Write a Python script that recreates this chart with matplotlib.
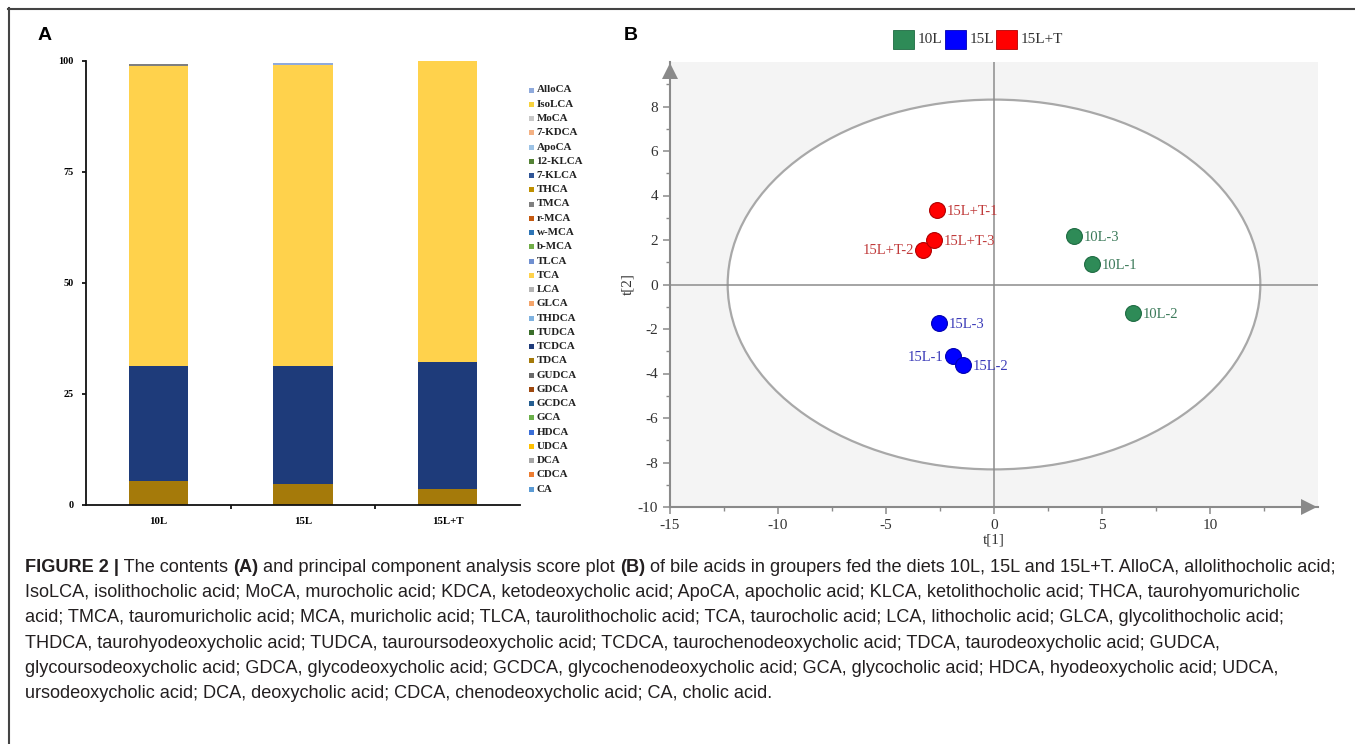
import matplotlib
matplotlib.use("Agg")
import matplotlib.pyplot as plt
from matplotlib.patches import Ellipse, Rectangle
from matplotlib.lines import Line2D

plt.rcParams["axes.unicode_minus"] = False

# ---------------- data ----------------
groups = ["10L", "15L", "15L+T"]
acid_names = ["AlloCA", "IsoLCA", "MoCA", "7-KDCA", "ApoCA", "12-KLCA", "7-KLCA", "THCA",
              "TMCA", "r-MCA", "w-MCA", "b-MCA", "TLCA", "TCA", "LCA", "GLCA", "THDCA",
              "TUDCA", "TCDCA", "TDCA", "GUDCA", "GDCA", "GCDCA", "GCA", "HDCA", "UDCA",
              "DCA", "CDCA", "CA"]
acid_colors = ["#8FAADC", "#F7D23E", "#C8C8C8", "#F4B183", "#9DC3E6", "#548235", "#2F5597",
               "#BF9000", "#7F7F7F", "#C55A11", "#2E75B6", "#70AD47", "#6F8FD0", "#FFD24C",
               "#B4B4B4", "#F4A46A", "#7FB2E0", "#3A6E2A", "#1E3B7A", "#A57A0A", "#6A6A6A",
               "#9E480E", "#255E91", "#6AB04A", "#3B6FD8", "#FFC000", "#A5A5A5", "#ED7D31",
               "#5B9BD5"]
tdca = [5.5, 4.7, 3.5]
tcdca = [25.8, 26.7, 28.6]
tca = [67.6, 67.6, 67.9]
tmca = [0.4, 0.0, 0.0]
alloca = [0.0, 0.5, 0.0]

pca_labels = ["10L-1", "10L-2", "10L-3", "15L-1", "15L-2", "15L-3",
              "15L+T-1", "15L+T-2", "15L+T-3"]
pca_groups = ["10L", "10L", "10L", "15L", "15L", "15L", "15L+T", "15L+T", "15L+T"]
t1 = [4.52, 6.45, 3.70, -1.88, -1.45, -2.53, -2.65, -3.27, -2.78]
t2 = [0.93, -1.27, 2.16, -3.22, -3.61, -1.72, 3.33, 1.57, 1.98]
left_labels = ["15L-1", "15L+T-2"]

caption_lines = [
    [("FIGURE 2 |", True), (" The contents ", False), ("(A)", True),
     (" and principal component analysis score plot ", False), ("(B)", True),
     (" of bile acids in groupers fed the diets 10L, 15L and 15L+T. AlloCA, allolithocholic acid;", False)],
    [("IsoLCA, isolithocholic acid; MoCA, murocholic acid; KDCA, ketodeoxycholic acid; ApoCA, apocholic acid; KLCA, ketolithocholic acid; THCA, taurohyomuricholic", False)],
    [("acid; TMCA, tauromuricholic acid; MCA, muricholic acid; TLCA, taurolithocholic acid; TCA, taurocholic acid; LCA, lithocholic acid; GLCA, glycolithocholic acid;", False)],
    [("THDCA, taurohyodeoxycholic acid; TUDCA, tauroursodeoxycholic acid; TCDCA, taurochenodeoxycholic acid; TDCA, taurodeoxycholic acid; GUDCA,", False)],
    [("glycoursodeoxycholic acid; GDCA, glycodeoxycholic acid; GCDCA, glycochenodeoxycholic acid; GCA, glycocholic acid; HDCA, hyodeoxycholic acid; UDCA,", False)],
    [("ursodeoxycholic acid; DCA, deoxycholic acid; CDCA, chenodeoxycholic acid; CA, cholic acid.", False)],
]

group_colors = {"10L": "#2E8B57", "15L": "#0000FF", "15L+T": "#FF0000"}
group_edges = {"10L": "#1E6B42", "15L": "#0000B0", "15L+T": "#B00000"}
label_colors = {"10L": "#3C7A5A", "15L": "#3A3AB8", "15L+T": "#C03A3A"}

values = {name: [0.0, 0.0, 0.0] for name in acid_names}
values["TDCA"] = tdca
values["TCDCA"] = tcdca
values["TCA"] = tca
values["TMCA"] = tmca
values["AlloCA"] = alloca

# ---------------- figure ----------------
W, H = 1355, 744
fig = plt.figure(figsize=(W / 100, H / 100), dpi=100)
fig.patch.set_facecolor("white")


def fx(px):
    return px / W


def fy(py):
    return 1 - py / H


SERIF = ["Liberation Serif", "DejaVu Serif"]
SANS = ["Liberation Sans", "DejaVu Sans"]

# frame
fig.add_artist(Line2D([fx(8), fx(1355)], [fy(8.5), fy(8.5)], color="#444444", lw=1.5))
fig.add_artist(Line2D([fx(8.5), fx(8.5)], [fy(8), fy(744)], color="#444444", lw=1.5))

# panel letters
fig.text(fx(38), fy(36), "A", family=SANS, fontweight="bold", fontsize=14, va="center", ha="left")
fig.text(fx(624), fy(36), "B", family=SANS, fontweight="bold", fontsize=14, va="center", ha="left")

# ---------------- Panel A ----------------
axA = fig.add_axes([fx(86), fy(505), (520 - 86) / W, (505 - 61) / H])
xs = list(range(len(groups)))
bottom = [0.0] * len(groups)
for name, col in zip(acid_names[::-1], acid_colors[::-1]):
    v = values[name]
    axA.bar(xs, v, width=0.41, bottom=bottom, color=col, edgecolor="none", zorder=2)
    bottom = [b + vv for b, vv in zip(bottom, v)]
axA.set_xlim(-0.5, 2.5)
axA.set_ylim(0, 100)
for s in ["top", "right"]:
    axA.spines[s].set_visible(False)
for s in ["left", "bottom"]:
    axA.spines[s].set_linewidth(1.3)
    axA.spines[s].set_color("#111111")
axA.set_yticks([0, 25, 50, 75, 100])
axA.set_yticklabels(["0", "25", "50", "75", "100"], family=SERIF, fontweight="bold", fontsize=7.3)
axA.set_xticks(xs)
axA.set_xticklabels(groups, family=SERIF, fontweight="bold", fontsize=7.8)
axA.set_xticks([0.5, 1.5], minor=True)
axA.tick_params(axis="x", which="major", length=0, pad=9)
axA.tick_params(axis="x", which="minor", length=3, width=1.2, direction="out")
axA.tick_params(axis="y", length=3, width=1.2, direction="out", pad=6)

# legend A
for i, (name, col) in enumerate(zip(acid_names, acid_colors)):
    yc = 90 + i * 14.25
    fig.patches.append(Rectangle((fx(528.5), fy(yc + 2.5)), 5 / W, 5 / H,
                                 transform=fig.transFigure, facecolor=col, edgecolor="none"))
    fig.text(fx(536.5), fy(yc), name, family=SERIF, fontweight="bold", fontsize=7.9,
             va="center", ha="left", color="#222222")

# ---------------- Panel B ----------------
axB = fig.add_axes([fx(670), fy(507), 648 / W, 445 / H])
axB.set_facecolor("#F4F4F4")
axB.set_xlim(-15, 15)
axB.set_ylim(-10, 10)
axB.add_patch(Ellipse((0, 0), 2 * 12.33, 2 * 8.31, facecolor="white", edgecolor="#A8A8A8",
                      lw=1.6, zorder=1))
axB.axhline(0, color="#8C8C8C", lw=1.1, zorder=2)
axB.axvline(0, color="#8C8C8C", lw=1.1, zorder=2)
for s in ["top", "right"]:
    axB.spines[s].set_visible(False)
for s in ["left", "bottom"]:
    axB.spines[s].set_color("#8A8A8A")
    axB.spines[s].set_linewidth(1.5)
axB.set_xticks([-15, -10, -5, 0, 5, 10])
axB.set_xticks([-12.5, -7.5, -2.5, 2.5, 7.5, 12.5], minor=True)
axB.set_yticks(list(range(-10, 9, 2)))
axB.set_yticks(list(range(-9, 10, 2)), minor=True)
axB.tick_params(which="both", color="#8A8A8A", direction="out", labelcolor="#333333")
axB.tick_params(which="major", length=5, width=1.1, labelsize=11)
axB.tick_params(which="minor", length=3, width=1.0)
for lab in axB.get_xticklabels() + axB.get_yticklabels():
    lab.set_family(SERIF)
# arrows
axB.plot([1 - 9 / 648], [0], marker=">", ms=11, color="#8A8A8A", transform=axB.transAxes,
         clip_on=False, zorder=5, markeredgewidth=0)
axB.plot([0], [1 - 9 / 445], marker="^", ms=11, color="#8A8A8A", transform=axB.transAxes,
         clip_on=False, zorder=5, markeredgewidth=0)

for lab, g, x, y in zip(pca_labels, pca_groups, t1, t2):
    axB.scatter([x], [y], s=130, color=group_colors[g], edgecolors=group_edges[g],
                linewidths=0.8, zorder=4)
    if lab in left_labels:
        axB.annotate(lab, (x, y), xytext=(-7, -1), textcoords="offset points", ha="right",
                     va="center", family=SERIF, fontsize=10.5, color=label_colors[g], zorder=6)
    else:
        axB.annotate(lab, (x, y), xytext=(7, -1), textcoords="offset points", ha="left",
                     va="center", family=SERIF, fontsize=10.5, color=label_colors[g], zorder=6)

fig.text(fx(994), fy(540), "t[1]", family=SERIF, fontsize=11, ha="center", va="center",
         color="#333333")
fig.text(fx(628), fy(284), "t[2]", family=SERIF, fontsize=11, ha="center", va="center",
         rotation=90, color="#333333")

# legend B
leg_x = [893, 945, 996]
for gx, g in zip(leg_x, groups):
    fig.patches.append(Rectangle((fx(gx), fy(49)), 21 / W, 19 / H, transform=fig.transFigure,
                                 facecolor=group_colors[g], edgecolor=group_edges[g], lw=0.6))
    fig.text(fx(gx + 25), fy(39.5), g, family=SERIF, fontsize=11, ha="left", va="center",
             color="#333333")

# ---------------- caption ----------------
renderer = fig.canvas.get_renderer()


def text_width(s, bold, size):
    def w(t):
        tt = fig.text(0, 0, t, family=SANS, fontweight="bold" if bold else "normal", fontsize=size)
        bb = tt.get_window_extent(renderer=renderer)
        tt.remove()
        return bb.width
    return w("X" + s + "X") - w("XX")


cap_size = 13.1
for li, parts in enumerate(caption_lines):
    x = 25
    yb = 572 + li * 25.2
    for s, bold in parts:
        fig.text(fx(x), fy(yb), s, family=SANS, fontweight="bold" if bold else "normal",
                 fontsize=cap_size, ha="left", va="baseline", color="#231F20")
        x += text_width(s, bold, cap_size)

fig.savefig("out.png", dpi=100)
